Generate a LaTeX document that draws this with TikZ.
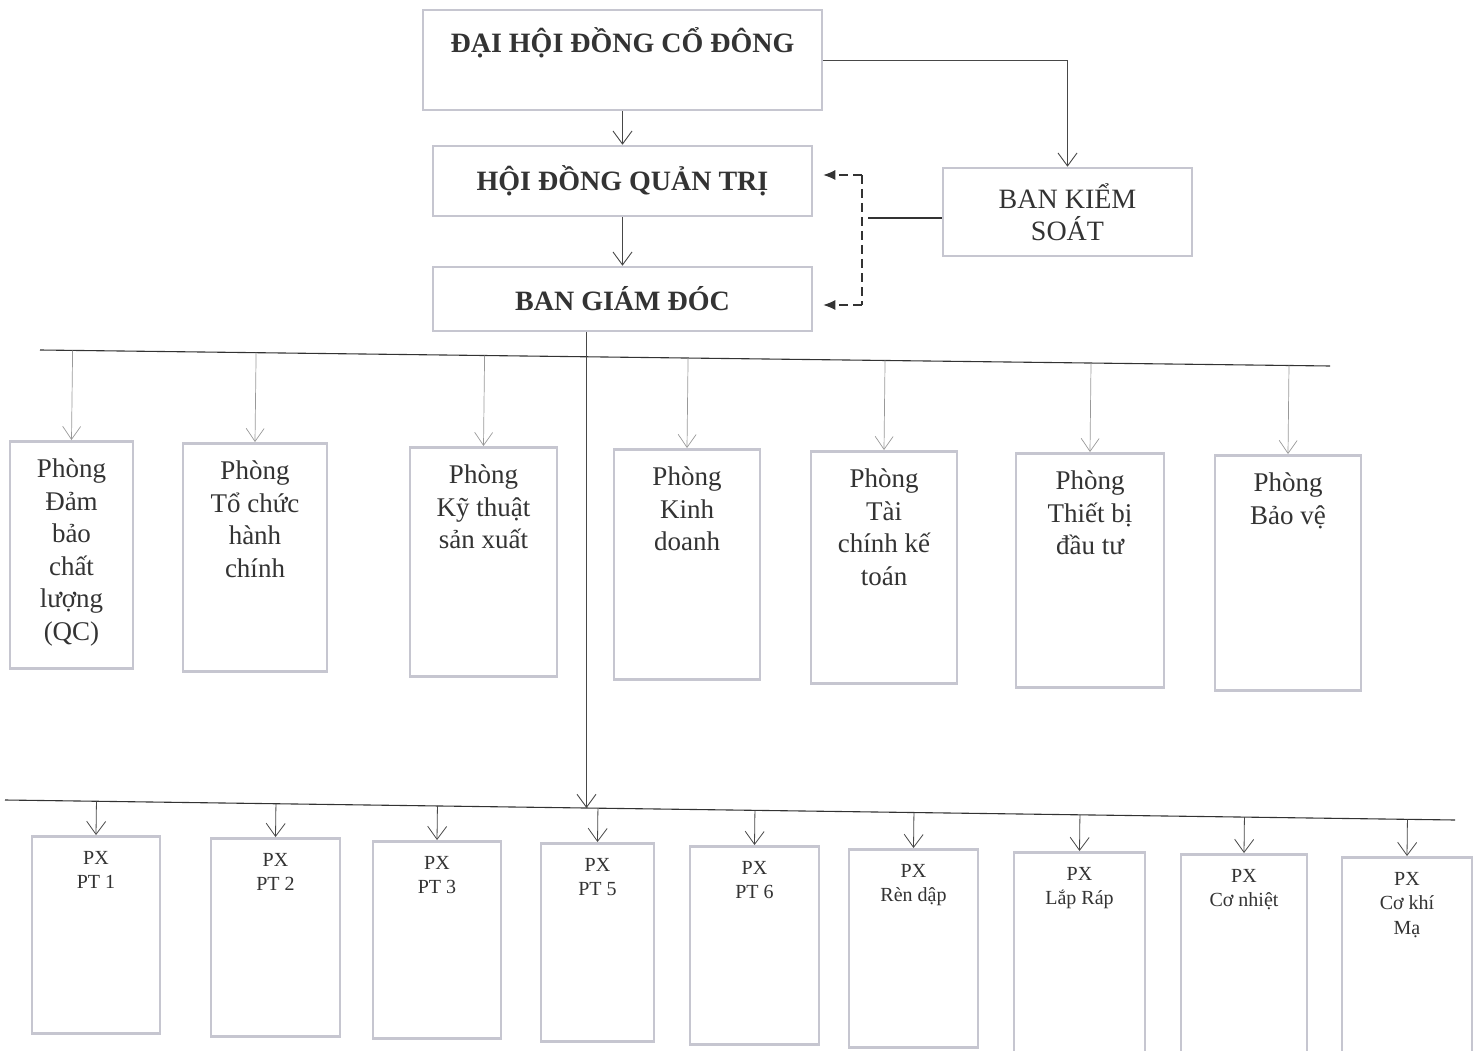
\documentclass[tikz,border=0pt]{standalone}
\usepackage{fontspec}
\setmainfont{Liberation Serif}
\definecolor{khung}{HTML}{C6C6D0}
\definecolor{muc}{HTML}{333333}
\usetikzlibrary{calc, positioning, arrows.meta}

\begin{document}
\begin{tikzpicture}[x=1pt, y=-1pt,
  hop/.style={draw=khung, line width=2.5pt, fill=white, inner sep=0pt},
  chu/.style={text=muc, inner sep=0pt, align=center, anchor=north},
  mui/.style={draw=muc!90, line width=0.9pt, -{Straight Barb[length=13pt, width=19pt]}},
  nhat/.style={draw=gray!80, line width=0.7pt, -{Straight Barb[length=13pt, width=18pt]}},
  gach/.style={draw=muc, line width=1.1pt, dash pattern=on 9pt off 5pt, -{Latex[length=12pt, width=10pt]}}]
  \useasboundingbox (0,0) rectangle (1478,1051);

  % ban lanh dao
  \node[hop, minimum width=399, minimum height=100] (dh) at (622.5,60) {};
  \node[chu, font=\fontsize{28}{32}\selectfont\bfseries] (dhT) at ($(dh.north)+(0,19)$) {ĐẠI HỘI ĐỒNG CỔ ĐÔNG};
  \node[hop, minimum width=379, minimum height=70, font=\fontsize{28}{32}\selectfont\bfseries, text=muc] (hd) at (622.5,181) {HỘI ĐỒNG QUẢN TRỊ};
  \node[hop, minimum width=379, minimum height=64, font=\fontsize{28}{32}\selectfont\bfseries, text=muc] (bg) at (622.5,299) {BAN GIÁM ĐÓC};
  \node[hop, minimum width=249, minimum height=88, align=center, font=\fontsize{28}{32}\selectfont, text=muc] (bks) at (1067.5,212) {BAN KIỂM\\SOÁT};

  \draw[mui] (dh.south) -- (hd.north);
  \draw[mui] (hd.south) -- (bg.north);
  \draw[mui] (dh.east) -| (bks.north);

  % ban kiem soat giam sat
  \coordinate (kt) at (862,175);
  \coordinate (kb) at (862,305);
  \coordinate (km) at (868,218);
  \draw[muc, line width=1.2pt] (bks.west |- km) -- (km);
  \draw[gach, -] (kt) -- (kb);
  \draw[gach, shorten >=10pt] (kt) -- (hd.east |- kt);
  \draw[gach, shorten >=10pt] (kb) -- (bg.east |- kb);

  % thanh ngang
  \coordinate (u1) at (40,350);
  \coordinate (u2) at (1330,366);
  \coordinate (l1) at (5,800);
  \coordinate (l2) at (1455,820);
  \draw[muc, line width=1.1pt] (u1) -- (u2);
  \draw[muc, line width=1.1pt] (l1) -- (l2);

  \coordinate (bgx) at ($(bg.south)+(-36,0)$);
  \coordinate (lb) at ($(l1)!0.4007!(l2)$);
  \draw[mui] (bgx) -- (bgx |- lb);

  % cac phong
  \foreach \n/\x/\yt/\yb/\w/\txt in {
    1/71.5/440/667/123/{Phòng\\Đảm\\bảo\\chất\\lượng\\(QC)},
    2/255/442/670/144/{Phòng\\Tổ chức\\hành\\chính},
    3/483.5/446/675/147/{Phòng\\Kỹ thuật\\sản xuất},
    4/687/448/678/146/{Phòng\\Kinh\\doanh},
    5/884/450/682/146/{Phòng\\Tài\\chính kế\\toán},
    6/1090/452/686/148/{Phòng\\Thiết bị\\đầu tư},
    7/1288/454/689/146/{Phòng\\Bảo vệ}} {
    \pgfmathsetmacro{\h}{\yb-\yt}
    \node[hop, minimum width=\w, minimum height=\h, anchor=north] (ph\n) at (\x,\yt) {};
    \node[chu, font=\fontsize{27}{32.5}\selectfont] (ph\n t) at ($(ph\n.north)+(0,19)$) {\txt};
    \draw[nhat] ($(u1)!(ph\n.north)!(u2)$) -- (ph\n.north);
  }

  % cac phan xuong
  \foreach \n/\x/\yt/\yb/\w/\txt in {
    1/96/835/1032/128/{PX\\PT 1},
    2/275.5/837/1035/129/{PX\\PT 2},
    3/437/840/1037/128/{PX\\PT 3},
    4/597.5/842/1040/113/{PX\\PT 5},
    5/754.5/845/1043/129/{PX\\PT 6},
    6/913.5/848/1046/129/{PX\\Rèn dập},
    7/1079.5/851/1054/131/{PX\\Lắp Ráp},
    8/1244/853/1056/126/{PX\\Cơ nhiệt},
    9/1407/856/1058/130/{PX\\Cơ khí\\Mạ}} {
    \pgfmathsetmacro{\h}{\yb-\yt}
    \node[hop, minimum width=\w, minimum height=\h, anchor=north] (px\n) at (\x,\yt) {};
    \node[chu, font=\fontsize{20}{24.5}\selectfont] (px\n t) at ($(px\n.north)+(0,16)$) {\txt};
    \draw[mui, line width=0.8pt] ($(l1)!(px\n.north)!(l2)$) -- (px\n.north);
  }
\end{tikzpicture}
\end{document}
